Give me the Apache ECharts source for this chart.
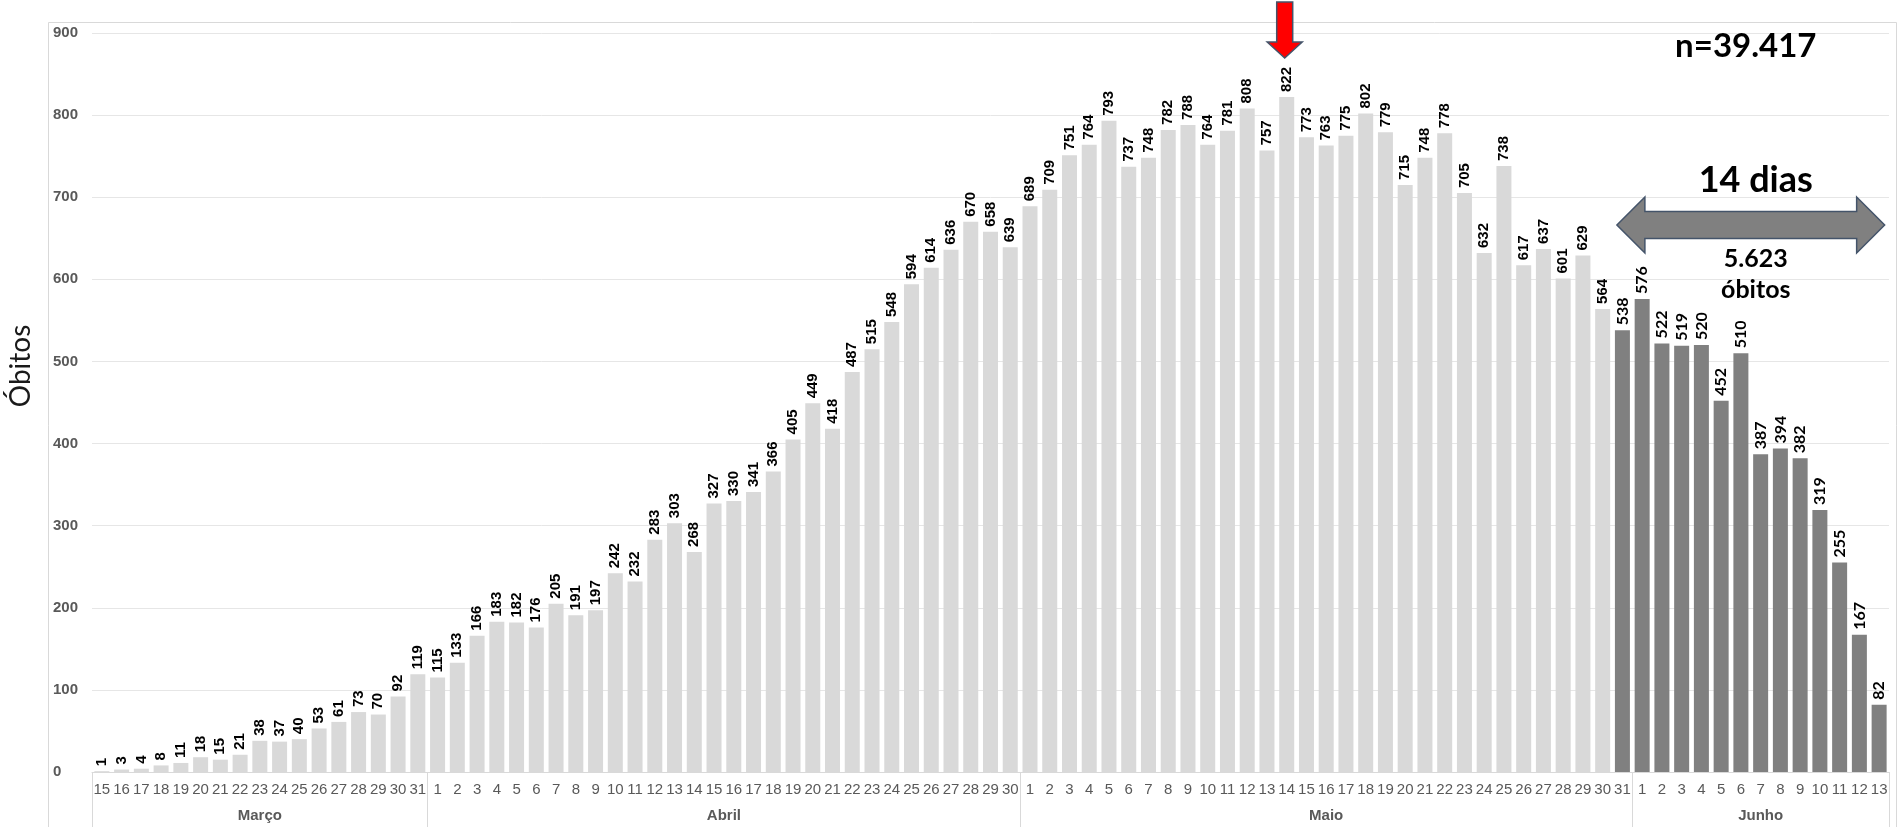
<!DOCTYPE html>
<html lang="pt-BR">
<head>
<meta charset="utf-8">
<title>Óbitos diários</title>
<script src="https://cdn.jsdelivr.net/npm/echarts@6/dist/echarts.min.js"></script>
<style>
  html, body { margin: 0; padding: 0; background: #ffffff; }
  #chart { width: 1903px; height: 827px; }
</style>
</head>
<body>
<div id="chart"></div>
<script>
// Daily deaths by date of occurrence, 15 March to 13 June
const meses = ['Março', 'Abril', 'Maio', 'Junho'];

const diasMarco = ['15','16','17','18','19','20','21','22','23','24','25','26','27','28','29','30','31'];
const diasAbril = ['1','2','3','4','5','6','7','8','9','10','11','12','13','14','15','16','17','18','19','20','21','22','23','24','25','26','27','28','29','30'];
const diasMaio  = ['1','2','3','4','5','6','7','8','9','10','11','12','13','14','15','16','17','18','19','20','21','22','23','24','25','26','27','28','29','30','31'];
const diasJunho = ['1','2','3','4','5','6','7','8','9','10','11','12','13'];

const obitosMarco = [1, 3, 4, 8, 11, 18, 15, 21, 38, 37, 40, 53, 61, 73, 70, 92, 119];
const obitosAbril = [115, 133, 166, 183, 182, 176, 205, 191, 197, 242, 232, 283, 303, 268, 327,
                     330, 341, 366, 405, 449, 418, 487, 515, 548, 594, 614, 636, 670, 658, 639];
const obitosMaio  = [689, 709, 751, 764, 793, 737, 748, 782, 788, 764, 781, 808, 757, 822, 773, 763,
                     775, 802, 779, 715, 748, 778, 705, 632, 738, 617, 637, 601, 629, 564, 538];
const obitosJunho = [576, 522, 519, 520, 452, 510, 387, 394, 382, 319, 255, 167, 82];

const yTicks = [0, 100, 200, 300, 400, 500, 600, 700, 800, 900];
const totalTexto = 'n=39.417';
const ultimosDias = 14;   // most recent window, drawn darker

const diasPorMes = [diasMarco, diasAbril, diasMaio, diasJunho];
const categorias = [].concat(diasMarco, diasAbril, diasMaio, diasJunho);
const valores = [].concat(obitosMarco, obitosAbril, obitosMaio, obitosJunho);
const n = categorias.length;
const inicioDestaque = n - ultimosDias;

// month boundaries and midpoints on a 0..n scale
const limites = [0];
diasPorMes.forEach(d => limites.push(limites[limites.length - 1] + d.length));
const centros = meses.map((m, i) => (limites[i] + limites[i + 1]) / 2);

const corClara = '#d9d9d9';
const corEscura = '#808080';
const cinzaTexto = '#595959';
const fonteArial = '"Liberation Sans", Arial, sans-serif';

const dados = valores.map((v, i) => {
  const escuro = i >= inicioDestaque;
  return {
    value: v,
    itemStyle: { color: escuro ? corEscura : corClara },
    label: escuro ? { fontFamily: 'Lato, "Open Sans", sans-serif', fontSize: 16 } : {}
  };
});

const chart = echarts.init(document.getElementById('chart'), null, { renderer: 'canvas' });

const option = {
  animation: false,
  backgroundColor: '#ffffff',
  grid: { left: 92, right: 14, top: 33, bottom: 55, containLabel: false },
  xAxis: [
    {
      type: 'category',
      data: categorias,
      boundaryGap: true,
      axisLine: { show: true, lineStyle: { color: '#d9d9d9', width: 1 } },
      axisTick: { show: false },
      axisLabel: {
        interval: 0,
        margin: 10,
        color: cinzaTexto,
        fontSize: 15,
        fontFamily: fonteArial
      },
      splitLine: { show: false }
    },
    {
      type: 'value',
      position: 'bottom',
      min: 0,
      max: n,
      axisLine: { show: false },
      axisTick: {
        show: true,
        customValues: limites,
        length: 56,
        lineStyle: { color: '#d9d9d9', width: 1 }
      },
      axisLabel: {
        show: true,
        customValues: centros,
        margin: 36,
        color: cinzaTexto,
        fontSize: 15,
        fontWeight: 'bold',
        fontFamily: fonteArial,
        formatter: v => {
          const k = centros.indexOf(v);
          return k >= 0 ? meses[k] : '';
        }
      },
      splitLine: { show: false }
    }
  ],
  yAxis: {
    type: 'value',
    min: yTicks[0],
    max: yTicks[yTicks.length - 1],
    interval: yTicks[1] - yTicks[0],
    axisLine: { show: false },
    axisTick: { show: false },
    axisLabel: {
      align: 'left',
      margin: 39,
      color: cinzaTexto,
      fontSize: 15,
      fontWeight: 'bold',
      fontFamily: fonteArial
    },
    splitLine: { show: true, lineStyle: { color: '#e6e6e6', width: 1 } }
  },
  series: [
    {
      type: 'bar',
      xAxisIndex: 0,
      yAxisIndex: 0,
      data: dados,
      barWidth: 15,
      label: {
        show: true,
        position: 'top',
        rotate: 90,
        align: 'left',
        verticalAlign: 'middle',
        distance: 5,
        color: '#000000',
        fontSize: 15,
        fontWeight: 'bold',
        fontFamily: fonteArial
      }
    }
  ]
};

chart.setOption(option);

// annotations placed from the axes' own scales
const px = (i, v) => chart.convertToPixel({ xAxisIndex: 0, yAxisIndex: 0 }, [i, v]);
const largura = px(1, 0)[0] - px(0, 0)[0];

// red arrow above the peak day
const iPico = valores.indexOf(Math.max.apply(null, valores));
const pico = px(iPico, valores[iPico]);
const cx = pico[0] - 2;
const ponta = pico[1] - 39;
const haste = 8, cabeca = 17.5, compCabeca = 16;
const setaVermelha = [
  [cx - haste, 2], [cx + haste, 2], [cx + haste, ponta - compCabeca],
  [cx + cabeca, ponta - compCabeca], [cx, ponta], [cx - cabeca, ponta - compCabeca],
  [cx - haste, ponta - compCabeca]
];

// double arrow spanning the last 14 days
const esq = px(inicioDestaque, 0)[0] - largura * 0.28;
const dir = px(n - 1, 0)[0] + largura * 0.28;
const cy = 225, meiaHaste = 13.5, meiaCabeca = 28, cab = 28;
const setaDupla = [
  [esq, cy], [esq + cab, cy - meiaCabeca], [esq + cab, cy - meiaHaste],
  [dir - cab, cy - meiaHaste], [dir - cab, cy - meiaCabeca], [dir, cy],
  [dir - cab, cy + meiaCabeca], [dir - cab, cy + meiaHaste],
  [esq + cab, cy + meiaHaste], [esq + cab, cy + meiaCabeca]
];
const meio = (esq + dir) / 2;

const somaJanela = valores.slice(inicioDestaque).reduce((a, b) => a + b, 0);
const somaTexto = String(somaJanela).replace(/\B(?=(\d{3})+(?!\d))/g, '.');

const fonteDestaque = 'Lato, "Open Sans", sans-serif';

chart.setOption({
  graphic: [
    {
      type: 'rect',
      silent: true,
      shape: { x: 48.5, y: 22.5, width: 1848, height: 820 },
      style: { fill: 'none', stroke: '#d9d9d9', lineWidth: 1 },
      z: -1
    },
    {
      type: 'text',
      x: 21, y: 366,
      rotation: Math.PI / 2,
      style: {
        text: 'Óbitos',
        fill: '#1a1a1a',
        font: '28px Lato, "Open Sans", sans-serif',
        align: 'center',
        verticalAlign: 'middle'
      }
    },
    {
      type: 'polygon',
      shape: { points: setaVermelha },
      style: { fill: '#ff0000', stroke: '#44546a', lineWidth: 1.5 },
      z: 10
    },
    {
      type: 'polygon',
      shape: { points: setaDupla },
      style: { fill: '#808080', stroke: '#44546a', lineWidth: 1.5 },
      z: 10
    },
    {
      type: 'text',
      x: meio - 5, y: 46,
      style: {
        text: totalTexto,
        fill: '#000000',
        font: 'bold 33px ' + fonteDestaque,
        align: 'center',
        verticalAlign: 'middle'
      },
      z: 10
    },
    {
      type: 'text',
      x: meio + 5, y: 180,
      style: {
        text: ultimosDias + ' dias',
        fill: '#000000',
        font: 'bold 36px ' + fonteDestaque,
        align: 'center',
        verticalAlign: 'middle'
      },
      z: 10
    },
    {
      type: 'text',
      x: meio + 5, y: 259,
      style: {
        text: somaTexto,
        fill: '#000000',
        font: 'bold 25px ' + fonteDestaque,
        align: 'center',
        verticalAlign: 'middle'
      },
      z: 10
    },
    {
      type: 'text',
      x: meio + 5, y: 290,
      style: {
        text: 'óbitos',
        fill: '#000000',
        font: 'bold 25px ' + fonteDestaque,
        align: 'center',
        verticalAlign: 'middle'
      },
      z: 10
    }
  ]
});
</script>
</body>
</html>
